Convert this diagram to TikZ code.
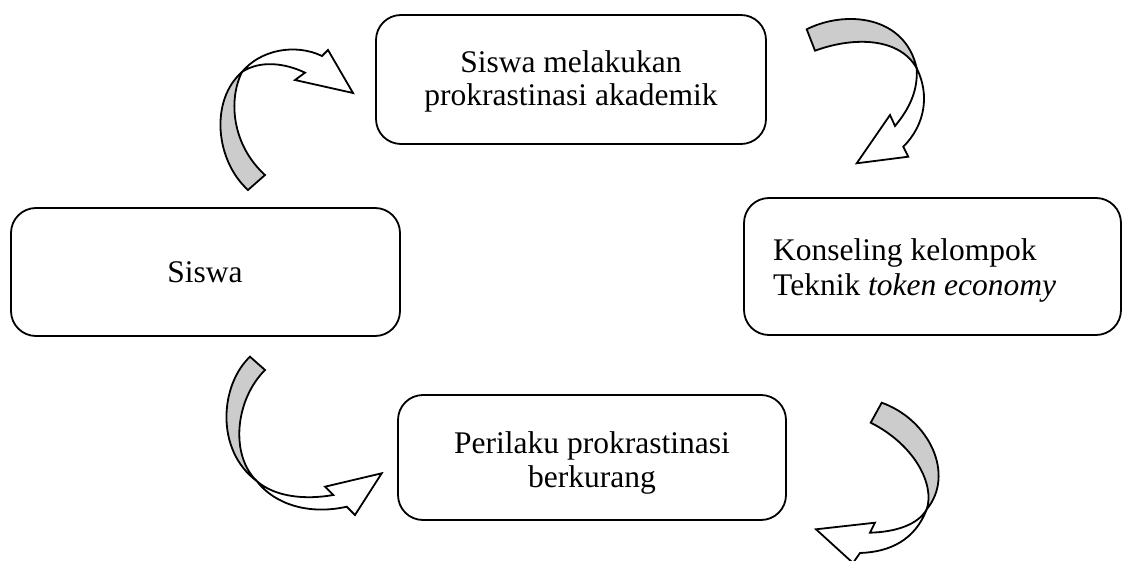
\documentclass[tikz,border=0pt]{standalone}
\usepackage{fontspec}
\setmainfont{Liberation Serif}
\definecolor{backgray}{HTML}{CCCCCC}
\begin{document}
\begin{tikzpicture}[x=1pt,y=-1pt,
  box/.style={draw, line width=1.8pt, rounded corners=25pt, inner sep=0pt},
  txt/.style={font=\fontsize{31.5}{36}\selectfont, inner sep=0pt},
  back/.style={draw, line width=1.8pt, fill=backgray, line join=miter},
  front/.style={draw, line width=1.8pt, fill=white, line join=miter}]
\useasboundingbox (0,0) rectangle (1124,561);
\clip (0,0) rectangle (1124,561);

% boxes
\node[box, minimum width=390pt, minimum height=129pt] (top) at (571,79.5) {};
\node[box, minimum width=377pt, minimum height=137pt] (right) at (932.5,266.5) {};
\node[box, minimum width=389pt, minimum height=128pt] (left) at (205.5,272) {};
\node[box, minimum width=388pt, minimum height=125pt] (bottom) at (592,457.5) {};

% texts
\node[txt, anchor=base] (t1a) at (571,72.7) {Siswa melakukan};
\node[txt, anchor=base] (t1b) at (571,106) {prokrastinasi akademik};
\node[txt, anchor=base west] (t2a) at (773,261) {Konseling kelompok};
\node[txt, anchor=base west] (t2b) at (773,295) {Teknik \textit{token economy}};
\node[txt, anchor=base] (t3) at (205,282.3) {Siswa};
\node[txt, anchor=base] (t4a) at (592,453) {Perilaku prokrastinasi};
\node[txt, anchor=base] (t4b) at (592,487) {berkurang};

% curved arrow A (left box -> top box)
\draw[back] (248,190) .. controls (215,160) and (210,100) .. (242,72)
  .. controls (228,100) and (232,145) .. (265,175) -- cycle;
\draw[front] (242,72) .. controls (260,50) and (295,43) .. (322,56)
  -- (328,50) -- (353,93) -- (295,80) -- (305,72.7)
  .. controls (285,63) and (260,60) .. (242,72) -- cycle;

% curved arrow B (top box -> right box)
\draw[back] (806.7,29.3) .. controls (845,10) and (905,15) .. (916.7,68.3)
  .. controls (900,38) and (855,36) .. (815,50.7) -- cycle;
\draw[front] (916.7,68.3) .. controls (930,95) and (925,125) .. (903.3,146.7)
  -- (908.3,156.7) -- (856.7,163.3) -- (890,115) -- (895,126)
  .. controls (910,108) and (918,90) .. (916.7,68.3) -- cycle;

% curved arrow C (left box -> bottom box)
\draw[back] (250,356.7) .. controls (220,385) and (215,450) .. (256.7,481)
  .. controls (230,455) and (235,400) .. (265,370) -- cycle;
\draw[front] (256.7,481) .. controls (275,505) and (310,515) .. (346.7,506.7)
  -- (355,515) -- (381.7,473.3) -- (325,486.7) -- (333.3,495)
  .. controls (305,500) and (275,497) .. (256.7,481) -- cycle;

% curved arrow D (right box -> down)
\draw[back] (881.7,402.7) .. controls (930,420) and (955,475) .. (926.7,509.3)
  .. controls (935,485) and (915,445) .. (870.7,422.7) -- cycle;
\draw[front] (926.7,509.3) .. controls (915,540) and (890,552) .. (860,553)
  -- (853,563) -- (816,529.3) -- (875,522.7) -- (870,532.7)
  .. controls (895,532) and (918,525) .. (926.7,509.3) -- cycle;
\end{tikzpicture}
\end{document}
